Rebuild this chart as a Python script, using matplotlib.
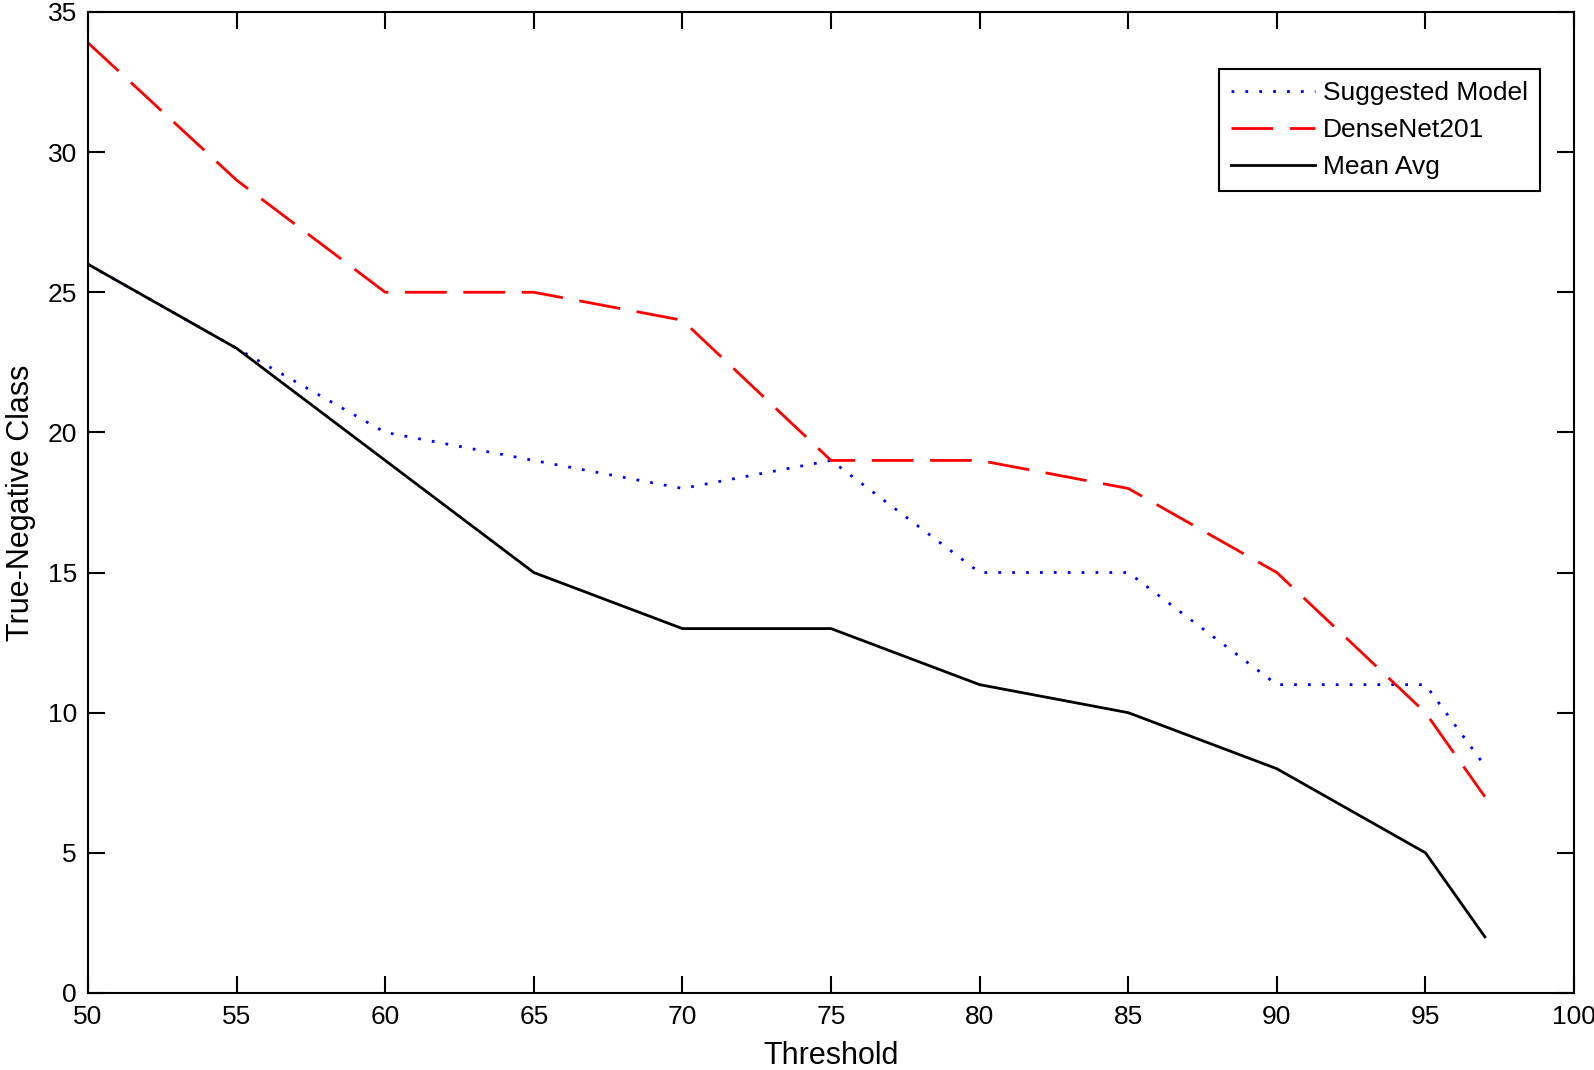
import numpy as np
import matplotlib.pyplot as plt

threshold = [50, 55, 60, 65, 70, 75, 80, 85, 90, 95, 97]
suggested = [26, 23, 20, 19, 18, 19, 15, 15, 11, 11, 8.1]
densenet = [33.9, 29, 25, 25, 24, 19, 19, 18, 15, 10, 7]
mean_avg = [26, 23, 19, 15, 13, 13, 11, 10, 8, 5, 2]

plt.rcParams['font.family'] = ['Liberation Sans', 'DejaVu Sans']
plt.rcParams['font.size'] = 19

fig = plt.figure(figsize=(15.94, 10.70), dpi=100)
ax = fig.add_axes([0.0552, 0.072, 0.9323, 0.9168])

ax.plot(threshold, suggested, color='blue', lw=2, linestyle=(0, (1, 4)), label='Suggested Model')
ax.plot(threshold, densenet, color='red', lw=2, linestyle=(0, (15, 6)), label='DenseNet201')
ax.plot(threshold, mean_avg, color='black', lw=2, label='Mean Avg')

ax.set_xlim(50, 100)
ax.set_ylim(0, 35)
ax.set_xticks(np.arange(50, 101, 5))
ax.set_yticks(np.arange(0, 36, 5))
ax.tick_params(direction='in', length=12, width=1.5, top=True, right=True, labelsize=19)
ax.tick_params(axis='x', pad=9)
ax.tick_params(axis='y', pad=8)
for s in ax.spines.values():
    s.set_linewidth(1.5)
ax.set_xlabel('Threshold', fontsize=22, labelpad=8)
ax.set_ylabel('True-Negative Class', fontsize=22, labelpad=8)

leg = ax.legend(loc='upper right', bbox_to_anchor=(0.977, 0.942), borderaxespad=0,
                fancybox=False, edgecolor='black', framealpha=1, handlelength=3.2,
                handletextpad=0.3, borderpad=0.45, labelspacing=0.5, fontsize=19)
leg.get_frame().set_linewidth(1.5)

fig.savefig('out.png', dpi=100)
